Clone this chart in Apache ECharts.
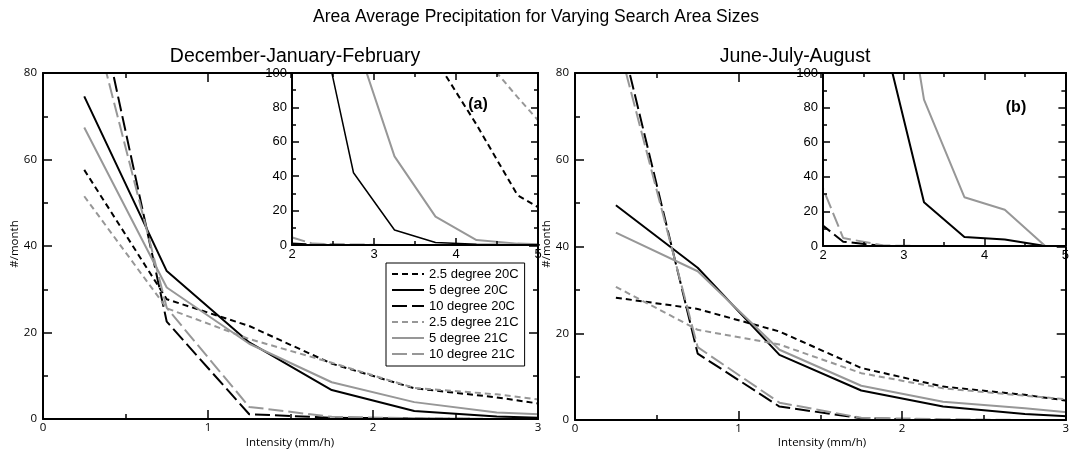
<!DOCTYPE html>
<html><head><meta charset="utf-8">
<script src="https://cdn.jsdelivr.net/npm/echarts@6/dist/echarts.min.js"></script>
<style>html,body{margin:0;padding:0;background:#fff}#c{width:1072px;height:454px}</style>
</head><body><div id="c"></div>
<script>
// ---------------- DATA ----------------
const seriesNames = ['2.5 degree 20C','5 degree 20C','10 degree 20C','2.5 degree 21C','5 degree 21C','10 degree 21C'];
const mainX  = [0.25, 0.75, 1.25, 1.75, 2.25, 2.75, 3.25];
const insetX = [1.75, 2.25, 2.75, 3.25, 3.75, 4.25, 4.75, 5.25];

// December-January-February, main panel (#/month)
const djf_25_20C = [57.6, 27.7, 21.5, 12.8, 7.1, 5.0, 2.2];
const djf_5_20C  = [74.6, 34.2, 17.7, 6.7, 1.85, 0.6, 0.0];
const djf_10_20C = [110.7, 22.5, 1.1, 0.3, 0.1, 0.0, 0.0];
const djf_25_21C = [51.5, 25.6, 18.5, 13.0, 7.2, 5.7, 3.4];
const djf_5_21C  = [67.4, 30.4, 17.4, 8.5, 3.9, 1.5, 0.7];
const djf_10_21C = [100.0, 25.7, 2.8, 0.5, 0.2, 0.0, 0.0];

// December-January-February, inset (a)
const djfIn_25_20C = [null, null, null, null, 108, 70, 29, 15];
const djfIn_5_20C  = [null, 152, 42, 8.7, 1.4, 0.4, 0.1, 0];
const djfIn_10_20C = [1.5, 0.2, 0, 0, 0, 0, 0, 0];
const djfIn_25_21C = [null, null, null, null, null, 114, 86, 59];
const djfIn_5_21C  = [null, null, 123, 51.5, 16.5, 2.9, 0.8, 0];
const djfIn_10_21C = [8, 0.8, 0.3, 0, 0, 0, 0, 0];

// June-July-August, main panel (#/month)
const jja_25_20C = [28.2, 25.6, 20.4, 12.0, 7.7, 5.8, 3.2];
const jja_5_20C  = [49.5, 35.1, 15.0, 6.8, 3.1, 1.4, 0.4];
const jja_10_20C = [93, 15.3, 3.1, 0.4, 0.0, 0.0, 0.0];
const jja_25_21C = [30.7, 20.8, 17.4, 10.8, 7.3, 5.6, 4.0];
const jja_5_21C  = [43.2, 34.3, 16.2, 7.9, 4.2, 2.7, 0.9];
const jja_10_21C = [89, 16.8, 4.0, 0.5, 0.2, 0.0, 0.0];

// June-July-August, inset (b)
const jjaIn_5_20C  = [null, null, 121, 25.3, 5.2, 3.7, 0, 0];
const jjaIn_10_20C = [21, 2.5, 0, 0, 0, 0, 0, 0];
const jjaIn_5_21C  = [null, null, 227, 84.6, 28.2, 21.0, 0, 0];
const jjaIn_10_21C = [62, 4.6, 0.3, 0, 0, 0, 0, 0];

// tick labels / texts
const mainTitle = 'Area Average Precipitation for Varying Search Area Sizes';
const panelTitles = ['December-January-February', 'June-July-August'];
const panelTags = ['(a)', '(b)'];
const yName = '#/month';
const xName = 'Intensity (mm/h)';

// ---------------- STYLE / LAYOUT ----------------
const BLACK = '#000', GREY = '#979797';
const ST = {
  '2.5 degree 20C': {color: BLACK, type: [6, 4], width: 2},
  '5 degree 20C':   {color: BLACK, type: 'solid', width: 2},
  '10 degree 20C':  {color: BLACK, type: [15, 5], width: 2},
  '2.5 degree 21C': {color: GREY, type: [6, 4], width: 2},
  '5 degree 21C':   {color: GREY, type: 'solid', width: 2},
  '10 degree 21C':  {color: GREY, type: [15, 5], width: 2}
};
const FA = 'Open Sans', FH = 'Liberation Sans';

const grids = [
  {left: 43,  top: 73, width: 495, height: 346, zlevel: 0, inset: false, xmin: 0, xmax: 3, ymax: 80},
  {left: 292, top: 73, width: 246, height: 172, zlevel: 1, inset: true,  xmin: 2, xmax: 5, ymax: 100},
  {left: 575, top: 73, width: 495, height: 347, zlevel: 0, inset: false, xmin: 0, xmax: 3, ymax: 80},
  {left: 823, top: 73, width: 247, height: 173, zlevel: 1, inset: true,  xmin: 2, xmax: 5, ymax: 100}
];

const xAxes = [], yAxes = [];
grids.forEach((g, gi) => {
  const tickL = g.inset ? 7 : 9, minL = g.inset ? 4 : 5;
  const lab = g.inset
    ? {fontFamily: FH, fontSize: 13, color: '#000'}
    : {fontFamily: FA, fontSize: 11.5, color: '#000'};
  const common = (show, margin) => ({
    type: 'value', gridIndex: gi, zlevel: g.zlevel, z: 5,
    axisLine: {show: true, onZero: false, lineStyle: {color: '#000', width: 2}},
    axisTick: {show: true, inside: true, length: tickL, lineStyle: {color: '#000', width: 1.5}},
    minorTick: {show: true, splitNumber: 2, length: minL, lineStyle: {color: '#000', width: 1.5}},
    splitLine: {show: false}, minorSplitLine: {show: false},
    axisLabel: Object.assign({show: show, margin: margin}, lab),
    silent: true
  });
  ['bottom', 'top'].forEach(pos => {
    xAxes.push(Object.assign(common(pos === 'bottom', g.inset ? 3 : 3),
      {position: pos, min: g.xmin, max: g.xmax, interval: 1}));
  });
  ['left', 'right'].forEach(pos => {
    yAxes.push(Object.assign(common(pos === 'left', g.inset ? 5 : 6),
      {position: pos, min: 0, max: g.ymax, interval: 20}));
  });
});

function mk(name, xs, ys, gi, width) {
  const g = grids[gi];
  const ls = Object.assign({}, ST[name]);
  if (width) ls.width = width;
  return {
    name: name, type: 'line', xAxisIndex: gi * 2, yAxisIndex: gi * 2,
    data: xs.map((x, i) => [x, ys[i] == null ? '-' : ys[i]]),
    symbol: 'none', showSymbol: false, clip: true, connectNulls: false,
    itemStyle: {color: ls.color},
    lineStyle: ls, zlevel: g.zlevel, z: 3, silent: true, animation: false
  };
}

const series = [
  mk(seriesNames[0], mainX, djf_25_20C, 0), mk(seriesNames[1], mainX, djf_5_20C, 0),
  mk(seriesNames[2], mainX, djf_10_20C, 0), mk(seriesNames[3], mainX, djf_25_21C, 0),
  mk(seriesNames[4], mainX, djf_5_21C, 0),  mk(seriesNames[5], mainX, djf_10_21C, 0),

  mk(seriesNames[0], insetX, djfIn_25_20C, 1), mk(seriesNames[1], insetX, djfIn_5_20C, 1, 1.5),
  mk(seriesNames[2], insetX, djfIn_10_20C, 1), mk(seriesNames[3], insetX, djfIn_25_21C, 1),
  mk(seriesNames[4], insetX, djfIn_5_21C, 1),  mk(seriesNames[5], insetX, djfIn_10_21C, 1),

  mk(seriesNames[0], mainX, jja_25_20C, 2), mk(seriesNames[1], mainX, jja_5_20C, 2),
  mk(seriesNames[2], mainX, jja_10_20C, 2), mk(seriesNames[3], mainX, jja_25_21C, 2),
  mk(seriesNames[4], mainX, jja_5_21C, 2),  mk(seriesNames[5], mainX, jja_10_21C, 2),

  mk(seriesNames[1], insetX, jjaIn_5_20C, 3), mk(seriesNames[2], insetX, jjaIn_10_20C, 3),
  mk(seriesNames[4], insetX, jjaIn_5_21C, 3), mk(seriesNames[5], insetX, jjaIn_10_21C, 3)
];

function txt(text, x, y, font, opts) {
  return Object.assign({
    type: 'text', x: x, y: y, silent: true, zlevel: 2,
    style: {text: text, font: font, fill: '#000',
      align: 'center', textAlign: 'center', verticalAlign: 'middle', textVerticalAlign: 'middle'}
  }, opts || {});
}

const option = {
  animation: false,
  backgroundColor: '#fff',
  grid: grids.map(g => ({left: g.left, top: g.top, width: g.width, height: g.height,
    show: g.inset, backgroundColor: '#fff', borderWidth: 0, zlevel: g.zlevel, z: 0, containLabel: false})),
  xAxis: xAxes,
  yAxis: yAxes,
  legend: {
    data: seriesNames, orient: 'vertical', left: 386, top: 263,
    itemWidth: 32, itemHeight: 10, itemGap: 2, padding: [4, 6, 5, 5],
    borderColor: '#000', borderWidth: 1, borderRadius: 0, backgroundColor: '#fff',
    itemStyle: {opacity: 0, borderWidth: 0},
    textStyle: {fontFamily: FH, fontSize: 13, color: '#000', lineHeight: 14},
    selectedMode: false
  },
  series: series,
  graphic: {elements: [
    txt(mainTitle, 536, 17, '17.5px "Liberation Sans"'),
    txt(panelTitles[0], 295, 57, '19.5px "Liberation Sans"'),
    txt(panelTitles[1], 795, 57, '19.5px "Liberation Sans"'),
    txt(panelTags[0], 478, 105, 'bold 16px "Liberation Sans"'),
    txt(panelTags[1], 1016, 108, 'bold 16px "Liberation Sans"'),
    txt(yName, 15, 244, '11.5px "Open Sans"', {rotation: Math.PI / 2}),
    txt(yName, 547, 244, '11.5px "Open Sans"', {rotation: Math.PI / 2}),
    txt(xName, 290, 443, '11.5px "Open Sans"'),
    txt(xName, 822, 443, '11.5px "Open Sans"')
  ]}
};

const chart = echarts.init(document.getElementById('c'), null, {renderer: 'canvas'});
chart.setOption(option);
</script></body></html>
